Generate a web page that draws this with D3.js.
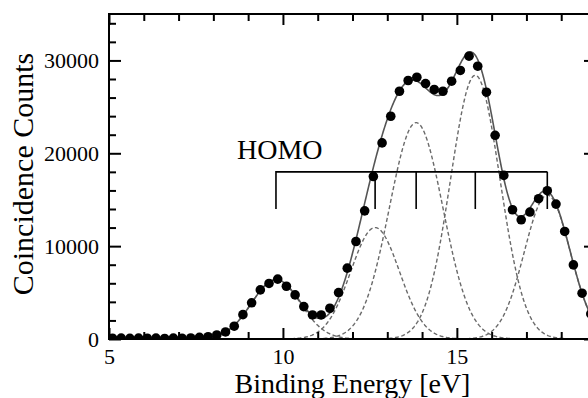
<!DOCTYPE html>
<html>
<head>
    <title>HOMO coincidence spectrum</title>
    <script src="https://d3js.org/d3.v7.min.js"></script>
    <style>
        body { margin: 0; background: #fff; }
        text { font-family: "Liberation Serif", "Times New Roman", serif; fill: #000; }
        .tick text { font-size: 22px; }
    </style>
</head>
<body>
<script>
// measured points (binding energy in eV, coincidence counts)
var energies = [5.1, 5.35, 5.6, 5.85, 6.1, 6.35, 6.6, 6.85, 7.1, 7.35,
    7.6, 7.85, 8.1, 8.35, 8.6, 8.85, 9.1, 9.35, 9.6, 9.85,
    10.1, 10.35, 10.6, 10.85, 11.1, 11.35, 11.6, 11.85, 12.1, 12.35,
    12.6, 12.85, 13.1, 13.35, 13.6, 13.85, 14.1, 14.35, 14.6, 14.85,
    15.1, 15.35, 15.6, 15.85, 16.1, 16.35, 16.6, 16.85, 17.1, 17.35,
    17.6, 17.85, 18.1, 18.35, 18.6, 18.85];
var counts = [80, 100, 70, 90, 80, 100, 60, 90, 80, 110,
    180, 250, 430, 760, 1380, 2620, 3900, 5290, 5980, 6450,
    5680, 4750, 3490, 2590, 2590, 3310, 5000, 7630, 10500, 13800,
    17500, 21120, 23990, 26680, 27840, 28190, 27510, 26870, 26680, 27760,
    28920, 30460, 29380, 26580, 21940, 17620, 13920, 12840, 13670, 15110,
    15970, 14530, 11580, 7980, 4930, 2700];

// fitted gaussian components (centre eV, height, sigma eV)
var peakCenters = [9.8, 12.65, 13.83, 15.53, 17.6];
var peakHeights = [6400, 12000, 23300, 28400, 15500];
var peakSigmas = [0.7, 0.7, 0.77, 0.71, 0.66];

var xMajor = [5, 10, 15];
var yMajor = [0, 10000, 20000, 30000];
var homoTop = 18000, homoBottom = 14000;

var W = 588, H = 398;
var pLeft = 109, pRight = 596, pTop = 14, pBottom = 339;

var svg = d3.select("body").append("svg")
    .attr("width", W)
    .attr("height", H);

var x = d3.scaleLinear().domain([5, 19]).range([pLeft, pRight]);
var y = d3.scaleLinear().domain([0, 35000]).range([pBottom, pTop]);

var xMinor = d3.range(5, 19.01, 1).filter(function(v) { return xMajor.indexOf(v) < 0; });
var yMinor = d3.range(0, 35001, 2000).filter(function(v) { return yMajor.indexOf(v) < 0; });

function gauss(i, e) {
    var d = e - peakCenters[i];
    return peakHeights[i] * Math.exp(-d * d / (2 * peakSigmas[i] * peakSigmas[i]));
}

var grid = d3.range(5, 19.001, 0.02);

svg.append("clipPath").attr("id", "plot")
  .append("rect")
    .attr("x", pLeft).attr("y", pTop)
    .attr("width", pRight - pLeft).attr("height", pBottom - pTop);

var plot = svg.append("g").attr("clip-path", "url(#plot)");

var line = d3.line()
    .x(function(d) { return x(d[0]); })
    .y(function(d) { return y(d[1]); });

// dashed components
peakCenters.forEach(function(c, i) {
    plot.append("path")
        .datum(grid.map(function(e) { return [e, gauss(i, e)]; }))
        .attr("d", line)
        .attr("fill", "none")
        .attr("stroke", "#6a6a6a")
        .attr("stroke-width", 1.4)
        .attr("stroke-dasharray", "4,2.5");
});

// sum fit
plot.append("path")
    .datum(grid.map(function(e) {
        var s = 0;
        peakCenters.forEach(function(c, i) { s += gauss(i, e); });
        return [e, s];
    }))
    .attr("d", line)
    .attr("fill", "none")
    .attr("stroke", "#555")
    .attr("stroke-width", 1.6);

// HOMO bracket
var bracket = d3.path();
bracket.moveTo(x(peakCenters[0]), y(homoBottom));
bracket.lineTo(x(peakCenters[0]), y(homoTop));
bracket.lineTo(x(peakCenters[peakCenters.length - 1]), y(homoTop));
peakCenters.slice(1).forEach(function(c) {
    bracket.moveTo(x(c), y(homoTop));
    bracket.lineTo(x(c), y(homoBottom));
});
svg.append("path")
    .attr("d", bracket.toString())
    .attr("fill", "none")
    .attr("stroke", "#000")
    .attr("stroke-width", 1.6);

svg.append("text")
    .attr("x", x(peakCenters[0]) - 39)
    .attr("y", y(homoTop) - 13)
    .style("font-size", "28px")
    .text("HOMO");

// data points
svg.append("g").attr("clip-path", "url(#plot)")
    .selectAll("circle")
    .data(energies)
    .enter().append("circle")
    .attr("cx", function(d) { return x(d); })
    .attr("cy", function(d, i) { return y(counts[i]); })
    .attr("r", 4.8)
    .attr("fill", "#000");

// axes
function styleAxis(g) {
    g.attr("font-size", 22);
    g.select(".domain").remove();
    g.selectAll("line").attr("stroke", "#000").attr("stroke-width", 2);
}

svg.append("g").attr("transform", "translate(0," + pBottom + ")")
    .call(d3.axisBottom(x).tickValues(xMajor).tickSize(-11).tickPadding(9).tickFormat(d3.format("d")))
    .call(styleAxis);
svg.append("g").attr("transform", "translate(0," + pBottom + ")")
    .call(d3.axisBottom(x).tickValues(xMinor).tickSize(-7).tickFormat(""))
    .call(styleAxis);
svg.append("g").attr("transform", "translate(0," + pTop + ")")
    .call(d3.axisTop(x).tickValues(xMajor).tickSize(-11).tickFormat(""))
    .call(styleAxis);
svg.append("g").attr("transform", "translate(0," + pTop + ")")
    .call(d3.axisTop(x).tickValues(xMinor).tickSize(-7).tickFormat(""))
    .call(styleAxis);

svg.append("g").attr("transform", "translate(" + pLeft + ",0)")
    .call(d3.axisLeft(y).tickValues(yMajor).tickSize(-12).tickPadding(10).tickFormat(d3.format("d")))
    .call(styleAxis);
svg.append("g").attr("transform", "translate(" + pLeft + ",0)")
    .call(d3.axisLeft(y).tickValues(yMinor).tickSize(-7).tickFormat(""))
    .call(styleAxis);
svg.append("g").attr("transform", "translate(" + pRight + ",0)")
    .call(d3.axisRight(y).tickValues(yMajor).tickSize(-12).tickFormat(""))
    .call(styleAxis);
svg.append("g").attr("transform", "translate(" + pRight + ",0)")
    .call(d3.axisRight(y).tickValues(yMinor).tickSize(-7).tickFormat(""))
    .call(styleAxis);

svg.append("rect")
    .attr("x", pLeft).attr("y", pTop)
    .attr("width", pRight - pLeft).attr("height", pBottom - pTop)
    .attr("fill", "none")
    .attr("stroke", "#000")
    .attr("stroke-width", 2);

svg.append("text")
    .attr("x", (pLeft + pRight) / 2)
    .attr("y", 393)
    .attr("text-anchor", "middle")
    .style("font-size", "28px")
    .text("Binding Energy [eV]");

svg.append("text")
    .attr("transform", "translate(33,174) rotate(-90)")
    .attr("text-anchor", "middle")
    .style("font-size", "30px")
    .text("Coincidence Counts");
</script>
</body>
</html>
